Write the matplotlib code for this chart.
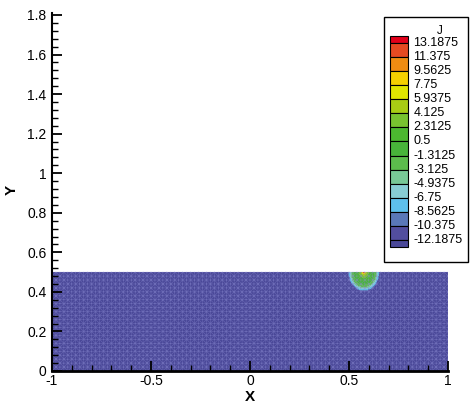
import numpy as np
import matplotlib
matplotlib.use("Agg")
import matplotlib.pyplot as plt
import matplotlib.tri as mtri
from matplotlib.patches import Rectangle
from matplotlib.ticker import MultipleLocator, FuncFormatter

plt.rcParams['font.family'] = ['Liberation Sans', 'DejaVu Sans']

# ---- data ----
levels = [-12.1875, -10.375, -8.5625, -6.75, -4.9375, -3.125, -1.3125, 0.5,
          2.3125, 4.125, 5.9375, 7.75, 9.5625, 11.375, 13.1875]
band_colors = ['#4a4898', '#524e9e', '#5a78b8', '#5ec0ec', '#88cdd4', '#78c896',
               '#5cbc4c', '#48b43a', '#4cb830', '#78c230', '#a8cc14', '#e0e600',
               '#f5d000', '#ef8c12', '#e54a22', '#e2001a']
legend_title = 'J'

domain_x = [-1.0, 1.0]
domain_y = [0.0, 0.5]
base_J = -12.6
blob_center = (0.575, 0.5)
blob_half_width = 0.08
blob_depth = 0.098
blob_r = [0.0, 0.08, 0.2, 0.5, 0.72, 0.82, 0.9, 1.0]
blob_J = [12.0, 6.0, 3.0, 0.0, -2.5, -5.5, -8.0, -12.6]

# ---- figure ----
W, H = 470, 405
fig = plt.figure(figsize=(W / 100, H / 100), dpi=100)
ax = fig.add_axes([52 / W, 34 / H, 396 / W, 358 / H])

# field on a fine grid
xf = np.linspace(domain_x[0], domain_x[1], 801)
yf = np.linspace(domain_y[0], domain_y[1], 201)
X, Y = np.meshgrid(xf, yf)
rn = np.sqrt(((X - blob_center[0]) / blob_half_width) ** 2 +
             ((Y - blob_center[1]) / blob_depth) ** 2)
Z = np.interp(rn, blob_r, blob_J, right=base_J)
full_levels = [-1e3] + levels + [1e3]
ax.contourf(X, Y, Z, levels=full_levels, colors=band_colors, zorder=1)

# triangular mesh lines (coarse)
nx, ny = 101, 26
mx = np.linspace(domain_x[0], domain_x[1], nx)
my = np.linspace(domain_y[0], domain_y[1], ny)
MX, MY = np.meshgrid(mx, my)
tris = []
for j in range(ny - 1):
    for i in range(nx - 1):
        a = j * nx + i
        b = a + 1
        c = a + nx
        d = c + 1
        if (i + j) % 2 == 0:
            tris += [[a, b, d], [a, d, c]]
        else:
            tris += [[a, b, c], [b, d, c]]
tri = mtri.Triangulation(MX.ravel(), MY.ravel(), np.array(tris))
ax.triplot(tri, color='#8a8ad2', lw=0.35, alpha=0.55, zorder=1.5)

ax.set_xlim(-1, 1)
ax.set_ylim(0, 1.81)
ax.set_aspect('auto')
for s in ['top', 'right']:
    ax.spines[s].set_visible(False)
ax.spines['left'].set_linewidth(1.5)
ax.spines['bottom'].set_linewidth(2.0)
ax.xaxis.set_major_locator(MultipleLocator(0.5))
ax.xaxis.set_minor_locator(MultipleLocator(0.1))
ax.yaxis.set_major_locator(MultipleLocator(0.2))
ax.yaxis.set_minor_locator(MultipleLocator(0.04))
fmt = FuncFormatter(lambda v, p: '%g' % round(v, 6))
ax.xaxis.set_major_formatter(fmt)
ax.yaxis.set_major_formatter(fmt)
ax.tick_params(which='both', direction='in', top=False, right=False, color='black')
ax.tick_params(which='major', length=7, width=1.3, labelsize=10)
ax.tick_params(which='minor', length=4, width=1.0)
ax.tick_params(axis='x', which='major', pad=2)
ax.tick_params(axis='y', which='major', pad=4)

fig.text(12 / W, 1 - 190 / H, 'Y', rotation=90, ha='center', va='center',
         fontsize=11, fontweight='bold')
fig.text(250 / W, 1 - 397 / H, 'X', ha='center', va='center',
         fontsize=11, fontweight='bold')

# ---- legend ----
lx0, ly0, lx1, ly1 = 383, 17, 469, 263
lax = fig.add_axes([lx0 / W, 1 - ly1 / H, (lx1 - lx0) / W, (ly1 - ly0) / H])
lax.set_xlim(lx0, lx1)
lax.set_ylim(ly1, ly0)
lax.axis('off')
lax.add_patch(Rectangle((lx0 + 0.5, ly0 + 0.5), lx1 - lx0 - 1.5, ly1 - ly0 - 1,
                        fill=False, ec='black', lw=1.0, clip_on=False))
lax.text(440, 31, legend_title, ha='center', va='center', fontsize=8.5)
top_lab, bot_lab = 43.0, 240.0
n = len(levels)
step = (bot_lab - top_lab) / (n - 1)
bx0, bx1 = 390, 408
vals_desc = levels[::-1]
cols_desc = band_colors[::-1]
edges = [top_lab - step / 2] + [top_lab + k * step for k in range(n)] + [bot_lab + step / 2]
for k in range(len(cols_desc)):
    y0, y1 = edges[k], edges[k + 1]
    lax.add_patch(Rectangle((bx0, y0), bx1 - bx0, y1 - y0, fc=cols_desc[k],
                            ec='black', lw=0.8))
for k, v in enumerate(vals_desc):
    lax.text(413.5, top_lab + k * step, '%g' % v, ha='left', va='center', fontsize=9)

fig.savefig('out.png', dpi=100)
